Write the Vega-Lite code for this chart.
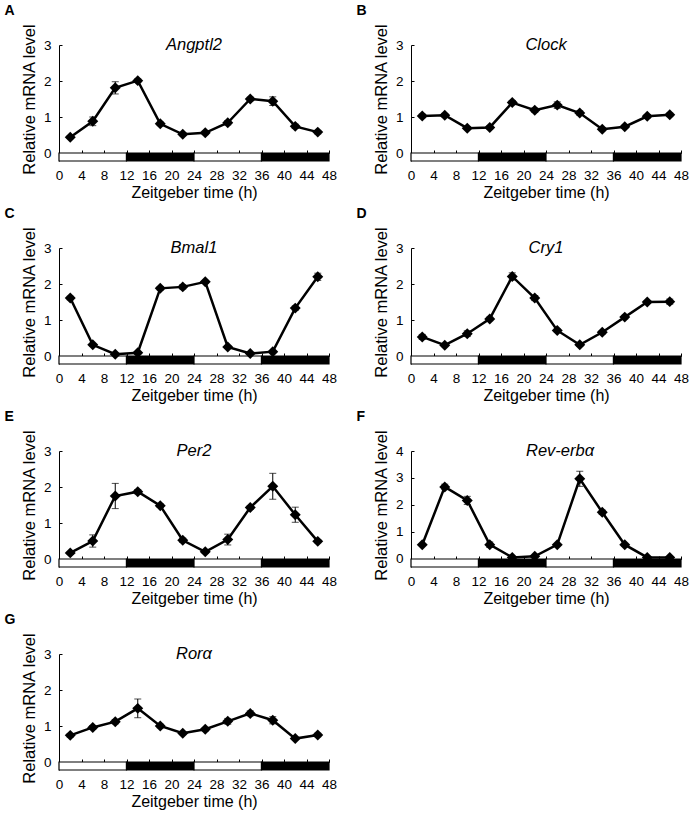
{
  "$schema": "https://vega.github.io/schema/vega-lite/v6.json",
  "padding": {"left": 4, "top": 4, "right": 2, "bottom": 2},
  "background": "white",
  "datasets": {
    "phase": [
      {"start": 0, "end": 12, "phase": "light"},
      {"start": 12, "end": 24, "phase": "dark"},
      {"start": 24, "end": 36, "phase": "light"},
      {"start": 36, "end": 48, "phase": "dark"}
    ],
    "expr": [
      {"gene": "Angptl2", "zt": 2, "value": 0.44, "err": 0.04},
      {"gene": "Angptl2", "zt": 6, "value": 0.88, "err": 0.12},
      {"gene": "Angptl2", "zt": 10, "value": 1.81, "err": 0.17},
      {"gene": "Angptl2", "zt": 14, "value": 2.01, "err": 0.05},
      {"gene": "Angptl2", "zt": 18, "value": 0.81, "err": 0.05},
      {"gene": "Angptl2", "zt": 22, "value": 0.52, "err": 0.04},
      {"gene": "Angptl2", "zt": 26, "value": 0.56, "err": 0.05},
      {"gene": "Angptl2", "zt": 30, "value": 0.84, "err": 0.06},
      {"gene": "Angptl2", "zt": 34, "value": 1.5, "err": 0.05},
      {"gene": "Angptl2", "zt": 38, "value": 1.44, "err": 0.12},
      {"gene": "Angptl2", "zt": 42, "value": 0.74, "err": 0.06},
      {"gene": "Angptl2", "zt": 46, "value": 0.58, "err": 0.05},
      {"gene": "Clock", "zt": 2, "value": 1.03, "err": 0.05},
      {"gene": "Clock", "zt": 6, "value": 1.05, "err": 0.05},
      {"gene": "Clock", "zt": 10, "value": 0.69, "err": 0.04},
      {"gene": "Clock", "zt": 14, "value": 0.71, "err": 0.04},
      {"gene": "Clock", "zt": 18, "value": 1.4, "err": 0.06},
      {"gene": "Clock", "zt": 22, "value": 1.19, "err": 0.06},
      {"gene": "Clock", "zt": 26, "value": 1.33, "err": 0.09},
      {"gene": "Clock", "zt": 30, "value": 1.11, "err": 0.06},
      {"gene": "Clock", "zt": 34, "value": 0.66, "err": 0.04},
      {"gene": "Clock", "zt": 38, "value": 0.73, "err": 0.04},
      {"gene": "Clock", "zt": 42, "value": 1.02, "err": 0.05},
      {"gene": "Clock", "zt": 46, "value": 1.06, "err": 0.05},
      {"gene": "Bmal1", "zt": 2, "value": 1.61, "err": 0.05},
      {"gene": "Bmal1", "zt": 6, "value": 0.31, "err": 0.04},
      {"gene": "Bmal1", "zt": 10, "value": 0.05, "err": 0.02},
      {"gene": "Bmal1", "zt": 14, "value": 0.09, "err": 0.03},
      {"gene": "Bmal1", "zt": 18, "value": 1.88, "err": 0.05},
      {"gene": "Bmal1", "zt": 22, "value": 1.92, "err": 0.06},
      {"gene": "Bmal1", "zt": 26, "value": 2.06, "err": 0.04},
      {"gene": "Bmal1", "zt": 30, "value": 0.25, "err": 0.04},
      {"gene": "Bmal1", "zt": 34, "value": 0.07, "err": 0.03},
      {"gene": "Bmal1", "zt": 38, "value": 0.12, "err": 0.03},
      {"gene": "Bmal1", "zt": 42, "value": 1.33, "err": 0.06},
      {"gene": "Bmal1", "zt": 46, "value": 2.2, "err": 0.1},
      {"gene": "Cry1", "zt": 2, "value": 0.53, "err": 0.07},
      {"gene": "Cry1", "zt": 6, "value": 0.3, "err": 0.04},
      {"gene": "Cry1", "zt": 10, "value": 0.62, "err": 0.08},
      {"gene": "Cry1", "zt": 14, "value": 1.03, "err": 0.05},
      {"gene": "Cry1", "zt": 18, "value": 2.21, "err": 0.1},
      {"gene": "Cry1", "zt": 22, "value": 1.61, "err": 0.07},
      {"gene": "Cry1", "zt": 26, "value": 0.71, "err": 0.04},
      {"gene": "Cry1", "zt": 30, "value": 0.31, "err": 0.04},
      {"gene": "Cry1", "zt": 34, "value": 0.66, "err": 0.05},
      {"gene": "Cry1", "zt": 38, "value": 1.08, "err": 0.05},
      {"gene": "Cry1", "zt": 42, "value": 1.5, "err": 0.04},
      {"gene": "Cry1", "zt": 46, "value": 1.51, "err": 0.07},
      {"gene": "Per2", "zt": 2, "value": 0.17, "err": 0.04},
      {"gene": "Per2", "zt": 6, "value": 0.5, "err": 0.17},
      {"gene": "Per2", "zt": 10, "value": 1.75, "err": 0.35},
      {"gene": "Per2", "zt": 14, "value": 1.87, "err": 0.06},
      {"gene": "Per2", "zt": 18, "value": 1.48, "err": 0.05},
      {"gene": "Per2", "zt": 22, "value": 0.52, "err": 0.06},
      {"gene": "Per2", "zt": 26, "value": 0.2, "err": 0.04},
      {"gene": "Per2", "zt": 30, "value": 0.54, "err": 0.15},
      {"gene": "Per2", "zt": 34, "value": 1.43, "err": 0.05},
      {"gene": "Per2", "zt": 38, "value": 2.02, "err": 0.36},
      {"gene": "Per2", "zt": 42, "value": 1.23, "err": 0.21},
      {"gene": "Per2", "zt": 46, "value": 0.49, "err": 0.04},
      {"gene": "Rev-erbα", "zt": 2, "value": 0.53, "err": 0.03},
      {"gene": "Rev-erbα", "zt": 6, "value": 2.67, "err": 0.1},
      {"gene": "Rev-erbα", "zt": 10, "value": 2.17, "err": 0.15},
      {"gene": "Rev-erbα", "zt": 14, "value": 0.53, "err": 0.1},
      {"gene": "Rev-erbα", "zt": 18, "value": 0.06, "err": 0.03},
      {"gene": "Rev-erbα", "zt": 22, "value": 0.1, "err": 0.03},
      {"gene": "Rev-erbα", "zt": 26, "value": 0.53, "err": 0.03},
      {"gene": "Rev-erbα", "zt": 30, "value": 2.97, "err": 0.28},
      {"gene": "Rev-erbα", "zt": 34, "value": 1.73, "err": 0.08},
      {"gene": "Rev-erbα", "zt": 38, "value": 0.53, "err": 0.05},
      {"gene": "Rev-erbα", "zt": 42, "value": 0.06, "err": 0.03},
      {"gene": "Rev-erbα", "zt": 46, "value": 0.06, "err": 0.03},
      {"gene": "Rorα", "zt": 2, "value": 0.74, "err": 0.05},
      {"gene": "Rorα", "zt": 6, "value": 0.96, "err": 0.05},
      {"gene": "Rorα", "zt": 10, "value": 1.12, "err": 0.06},
      {"gene": "Rorα", "zt": 14, "value": 1.49, "err": 0.26},
      {"gene": "Rorα", "zt": 18, "value": 1.0, "err": 0.05},
      {"gene": "Rorα", "zt": 22, "value": 0.8, "err": 0.04},
      {"gene": "Rorα", "zt": 26, "value": 0.91, "err": 0.05},
      {"gene": "Rorα", "zt": 30, "value": 1.13, "err": 0.08},
      {"gene": "Rorα", "zt": 34, "value": 1.35, "err": 0.07},
      {"gene": "Rorα", "zt": 38, "value": 1.16, "err": 0.1},
      {"gene": "Rorα", "zt": 42, "value": 0.65, "err": 0.03},
      {"gene": "Rorα", "zt": 46, "value": 0.75, "err": 0.05}
    ]
  },
  "columns": 2,
  "spacing": {"row": 6, "column": 19},
  "concat": [
    {
      "title": {"text": "A"},
      "width": 270, "height": 116,
      "layer": [
        {"data": {"name": "phase"}, "mark": {"type": "rect", "stroke": "black", "strokeWidth": 1.2},
         "encoding": {
           "x": {"field": "start", "type": "quantitative", "scale": {"domain": [0, 48], "nice": false}, "title": "Zeitgeber time (h)", "axis": {"values": [0,4,8,12,16,20,24,28,32,36,40,44,48], "tickCount": 20, "format": "d", "labelOverlap": false}},
           "x2": {"field": "end"},
           "y": {"datum": 0, "type": "quantitative", "scale": {"domain": [-0.2222, 3], "nice": false}, "title": "Relative mRNA level", "axis": {"values": [0,1,2,3], "tickCount": 10, "format": "d", "labelOverlap": false}},
           "y2": {"datum": -0.2222},
           "fill": {"field": "phase", "type": "nominal", "scale": {"domain": ["light", "dark"], "range": ["white", "black"]}, "legend": null}}},
        {"data": {"name": "expr"}, "transform": [{"filter": "datum.gene === 'Angptl2'"}],
         "encoding": {"x": {"field": "zt", "type": "quantitative", "title": "Zeitgeber time (h)", "axis": {"values": [0,4,8,12,16,20,24,28,32,36,40,44,48], "tickCount": 20, "format": "d", "labelOverlap": false}}, "y": {"field": "value", "type": "quantitative", "title": "Relative mRNA level", "axis": {"values": [0,1,2,3], "tickCount": 10, "format": "d", "labelOverlap": false}}},
         "layer": [
           {"mark": {"type": "line", "color": "black", "strokeWidth": 2.5}},
           {"mark": {"type": "errorbar", "color": "black", "thickness": 1, "ticks": {"size": 7, "thickness": 1, "color": "black"}}, "encoding": {"yError": {"field": "err"}}},
           {"mark": {"type": "point", "shape": "diamond", "filled": true, "color": "black", "size": 120, "opacity": 1}}
         ]},
        {"data": {"values": [{}]}, "mark": {"type": "text", "fontStyle": "italic", "fontSize": 16.5, "baseline": "middle", "align": "center"},
         "encoding": {"x": {"datum": 24}, "y": {"datum": 3}, "text": {"value": "Angptl2"}}}
      ]
    },
    {
      "title": {"text": "B"},
      "width": 270, "height": 116,
      "layer": [
        {"data": {"name": "phase"}, "mark": {"type": "rect", "stroke": "black", "strokeWidth": 1.2},
         "encoding": {
           "x": {"field": "start", "type": "quantitative", "scale": {"domain": [0, 48], "nice": false}, "title": "Zeitgeber time (h)", "axis": {"values": [0,4,8,12,16,20,24,28,32,36,40,44,48], "tickCount": 20, "format": "d", "labelOverlap": false}},
           "x2": {"field": "end"},
           "y": {"datum": 0, "type": "quantitative", "scale": {"domain": [-0.2222, 3], "nice": false}, "title": "Relative mRNA level", "axis": {"values": [0,1,2,3], "tickCount": 10, "format": "d", "labelOverlap": false}},
           "y2": {"datum": -0.2222},
           "fill": {"field": "phase", "type": "nominal", "scale": {"domain": ["light", "dark"], "range": ["white", "black"]}, "legend": null}}},
        {"data": {"name": "expr"}, "transform": [{"filter": "datum.gene === 'Clock'"}],
         "encoding": {"x": {"field": "zt", "type": "quantitative", "title": "Zeitgeber time (h)", "axis": {"values": [0,4,8,12,16,20,24,28,32,36,40,44,48], "tickCount": 20, "format": "d", "labelOverlap": false}}, "y": {"field": "value", "type": "quantitative", "title": "Relative mRNA level", "axis": {"values": [0,1,2,3], "tickCount": 10, "format": "d", "labelOverlap": false}}},
         "layer": [
           {"mark": {"type": "line", "color": "black", "strokeWidth": 2.5}},
           {"mark": {"type": "errorbar", "color": "black", "thickness": 1, "ticks": {"size": 7, "thickness": 1, "color": "black"}}, "encoding": {"yError": {"field": "err"}}},
           {"mark": {"type": "point", "shape": "diamond", "filled": true, "color": "black", "size": 120, "opacity": 1}}
         ]},
        {"data": {"values": [{}]}, "mark": {"type": "text", "fontStyle": "italic", "fontSize": 16.5, "baseline": "middle", "align": "center"},
         "encoding": {"x": {"datum": 24}, "y": {"datum": 3}, "text": {"value": "Clock"}}}
      ]
    },
    {
      "title": {"text": "C"},
      "width": 270, "height": 116,
      "layer": [
        {"data": {"name": "phase"}, "mark": {"type": "rect", "stroke": "black", "strokeWidth": 1.2},
         "encoding": {
           "x": {"field": "start", "type": "quantitative", "scale": {"domain": [0, 48], "nice": false}, "title": "Zeitgeber time (h)", "axis": {"values": [0,4,8,12,16,20,24,28,32,36,40,44,48], "tickCount": 20, "format": "d", "labelOverlap": false}},
           "x2": {"field": "end"},
           "y": {"datum": 0, "type": "quantitative", "scale": {"domain": [-0.2222, 3], "nice": false}, "title": "Relative mRNA level", "axis": {"values": [0,1,2,3], "tickCount": 10, "format": "d", "labelOverlap": false}},
           "y2": {"datum": -0.2222},
           "fill": {"field": "phase", "type": "nominal", "scale": {"domain": ["light", "dark"], "range": ["white", "black"]}, "legend": null}}},
        {"data": {"name": "expr"}, "transform": [{"filter": "datum.gene === 'Bmal1'"}],
         "encoding": {"x": {"field": "zt", "type": "quantitative", "title": "Zeitgeber time (h)", "axis": {"values": [0,4,8,12,16,20,24,28,32,36,40,44,48], "tickCount": 20, "format": "d", "labelOverlap": false}}, "y": {"field": "value", "type": "quantitative", "title": "Relative mRNA level", "axis": {"values": [0,1,2,3], "tickCount": 10, "format": "d", "labelOverlap": false}}},
         "layer": [
           {"mark": {"type": "line", "color": "black", "strokeWidth": 2.5}},
           {"mark": {"type": "errorbar", "color": "black", "thickness": 1, "ticks": {"size": 7, "thickness": 1, "color": "black"}}, "encoding": {"yError": {"field": "err"}}},
           {"mark": {"type": "point", "shape": "diamond", "filled": true, "color": "black", "size": 120, "opacity": 1}}
         ]},
        {"data": {"values": [{}]}, "mark": {"type": "text", "fontStyle": "italic", "fontSize": 16.5, "baseline": "middle", "align": "center"},
         "encoding": {"x": {"datum": 24}, "y": {"datum": 3}, "text": {"value": "Bmal1"}}}
      ]
    },
    {
      "title": {"text": "D"},
      "width": 270, "height": 116,
      "layer": [
        {"data": {"name": "phase"}, "mark": {"type": "rect", "stroke": "black", "strokeWidth": 1.2},
         "encoding": {
           "x": {"field": "start", "type": "quantitative", "scale": {"domain": [0, 48], "nice": false}, "title": "Zeitgeber time (h)", "axis": {"values": [0,4,8,12,16,20,24,28,32,36,40,44,48], "tickCount": 20, "format": "d", "labelOverlap": false}},
           "x2": {"field": "end"},
           "y": {"datum": 0, "type": "quantitative", "scale": {"domain": [-0.2222, 3], "nice": false}, "title": "Relative mRNA level", "axis": {"values": [0,1,2,3], "tickCount": 10, "format": "d", "labelOverlap": false}},
           "y2": {"datum": -0.2222},
           "fill": {"field": "phase", "type": "nominal", "scale": {"domain": ["light", "dark"], "range": ["white", "black"]}, "legend": null}}},
        {"data": {"name": "expr"}, "transform": [{"filter": "datum.gene === 'Cry1'"}],
         "encoding": {"x": {"field": "zt", "type": "quantitative", "title": "Zeitgeber time (h)", "axis": {"values": [0,4,8,12,16,20,24,28,32,36,40,44,48], "tickCount": 20, "format": "d", "labelOverlap": false}}, "y": {"field": "value", "type": "quantitative", "title": "Relative mRNA level", "axis": {"values": [0,1,2,3], "tickCount": 10, "format": "d", "labelOverlap": false}}},
         "layer": [
           {"mark": {"type": "line", "color": "black", "strokeWidth": 2.5}},
           {"mark": {"type": "errorbar", "color": "black", "thickness": 1, "ticks": {"size": 7, "thickness": 1, "color": "black"}}, "encoding": {"yError": {"field": "err"}}},
           {"mark": {"type": "point", "shape": "diamond", "filled": true, "color": "black", "size": 120, "opacity": 1}}
         ]},
        {"data": {"values": [{}]}, "mark": {"type": "text", "fontStyle": "italic", "fontSize": 16.5, "baseline": "middle", "align": "center"},
         "encoding": {"x": {"datum": 24}, "y": {"datum": 3}, "text": {"value": "Cry1"}}}
      ]
    },
    {
      "title": {"text": "E"},
      "width": 270, "height": 116,
      "layer": [
        {"data": {"name": "phase"}, "mark": {"type": "rect", "stroke": "black", "strokeWidth": 1.2},
         "encoding": {
           "x": {"field": "start", "type": "quantitative", "scale": {"domain": [0, 48], "nice": false}, "title": "Zeitgeber time (h)", "axis": {"values": [0,4,8,12,16,20,24,28,32,36,40,44,48], "tickCount": 20, "format": "d", "labelOverlap": false}},
           "x2": {"field": "end"},
           "y": {"datum": 0, "type": "quantitative", "scale": {"domain": [-0.2222, 3], "nice": false}, "title": "Relative mRNA level", "axis": {"values": [0,1,2,3], "tickCount": 10, "format": "d", "labelOverlap": false}},
           "y2": {"datum": -0.2222},
           "fill": {"field": "phase", "type": "nominal", "scale": {"domain": ["light", "dark"], "range": ["white", "black"]}, "legend": null}}},
        {"data": {"name": "expr"}, "transform": [{"filter": "datum.gene === 'Per2'"}],
         "encoding": {"x": {"field": "zt", "type": "quantitative", "title": "Zeitgeber time (h)", "axis": {"values": [0,4,8,12,16,20,24,28,32,36,40,44,48], "tickCount": 20, "format": "d", "labelOverlap": false}}, "y": {"field": "value", "type": "quantitative", "title": "Relative mRNA level", "axis": {"values": [0,1,2,3], "tickCount": 10, "format": "d", "labelOverlap": false}}},
         "layer": [
           {"mark": {"type": "line", "color": "black", "strokeWidth": 2.5}},
           {"mark": {"type": "errorbar", "color": "black", "thickness": 1, "ticks": {"size": 7, "thickness": 1, "color": "black"}}, "encoding": {"yError": {"field": "err"}}},
           {"mark": {"type": "point", "shape": "diamond", "filled": true, "color": "black", "size": 120, "opacity": 1}}
         ]},
        {"data": {"values": [{}]}, "mark": {"type": "text", "fontStyle": "italic", "fontSize": 16.5, "baseline": "middle", "align": "center"},
         "encoding": {"x": {"datum": 24}, "y": {"datum": 3}, "text": {"value": "Per2"}}}
      ]
    },
    {
      "title": {"text": "F"},
      "width": 270, "height": 116,
      "layer": [
        {"data": {"name": "phase"}, "mark": {"type": "rect", "stroke": "black", "strokeWidth": 1.2},
         "encoding": {
           "x": {"field": "start", "type": "quantitative", "scale": {"domain": [0, 48], "nice": false}, "title": "Zeitgeber time (h)", "axis": {"values": [0,4,8,12,16,20,24,28,32,36,40,44,48], "tickCount": 20, "format": "d", "labelOverlap": false}},
           "x2": {"field": "end"},
           "y": {"datum": 0, "type": "quantitative", "scale": {"domain": [-0.2963, 4], "nice": false}, "title": "Relative mRNA level", "axis": {"values": [0,1,2,3,4], "tickCount": 10, "format": "d", "labelOverlap": false}},
           "y2": {"datum": -0.2963},
           "fill": {"field": "phase", "type": "nominal", "scale": {"domain": ["light", "dark"], "range": ["white", "black"]}, "legend": null}}},
        {"data": {"name": "expr"}, "transform": [{"filter": "datum.gene === 'Rev-erbα'"}],
         "encoding": {"x": {"field": "zt", "type": "quantitative", "title": "Zeitgeber time (h)", "axis": {"values": [0,4,8,12,16,20,24,28,32,36,40,44,48], "tickCount": 20, "format": "d", "labelOverlap": false}}, "y": {"field": "value", "type": "quantitative", "title": "Relative mRNA level", "axis": {"values": [0,1,2,3,4], "tickCount": 10, "format": "d", "labelOverlap": false}}},
         "layer": [
           {"mark": {"type": "line", "color": "black", "strokeWidth": 2.5}},
           {"mark": {"type": "errorbar", "color": "black", "thickness": 1, "ticks": {"size": 7, "thickness": 1, "color": "black"}}, "encoding": {"yError": {"field": "err"}}},
           {"mark": {"type": "point", "shape": "diamond", "filled": true, "color": "black", "size": 120, "opacity": 1}}
         ]},
        {"data": {"values": [{}]}, "mark": {"type": "text", "fontStyle": "italic", "fontSize": 16.5, "baseline": "middle", "align": "center"},
         "encoding": {"x": {"datum": 26.5}, "y": {"datum": 4}, "text": {"value": "Rev-erbα"}}}
      ]
    },
    {
      "title": {"text": "G"},
      "width": 270, "height": 116,
      "layer": [
        {"data": {"name": "phase"}, "mark": {"type": "rect", "stroke": "black", "strokeWidth": 1.2},
         "encoding": {
           "x": {"field": "start", "type": "quantitative", "scale": {"domain": [0, 48], "nice": false}, "title": "Zeitgeber time (h)", "axis": {"values": [0,4,8,12,16,20,24,28,32,36,40,44,48], "tickCount": 20, "format": "d", "labelOverlap": false}},
           "x2": {"field": "end"},
           "y": {"datum": 0, "type": "quantitative", "scale": {"domain": [-0.2222, 3], "nice": false}, "title": "Relative mRNA level", "axis": {"values": [0,1,2,3], "tickCount": 10, "format": "d", "labelOverlap": false}},
           "y2": {"datum": -0.2222},
           "fill": {"field": "phase", "type": "nominal", "scale": {"domain": ["light", "dark"], "range": ["white", "black"]}, "legend": null}}},
        {"data": {"name": "expr"}, "transform": [{"filter": "datum.gene === 'Rorα'"}],
         "encoding": {"x": {"field": "zt", "type": "quantitative", "title": "Zeitgeber time (h)", "axis": {"values": [0,4,8,12,16,20,24,28,32,36,40,44,48], "tickCount": 20, "format": "d", "labelOverlap": false}}, "y": {"field": "value", "type": "quantitative", "title": "Relative mRNA level", "axis": {"values": [0,1,2,3], "tickCount": 10, "format": "d", "labelOverlap": false}}},
         "layer": [
           {"mark": {"type": "line", "color": "black", "strokeWidth": 2.5}},
           {"mark": {"type": "errorbar", "color": "black", "thickness": 1, "ticks": {"size": 7, "thickness": 1, "color": "black"}}, "encoding": {"yError": {"field": "err"}}},
           {"mark": {"type": "point", "shape": "diamond", "filled": true, "color": "black", "size": 120, "opacity": 1}}
         ]},
        {"data": {"values": [{}]}, "mark": {"type": "text", "fontStyle": "italic", "fontSize": 16.5, "baseline": "middle", "align": "center"},
         "encoding": {"x": {"datum": 24}, "y": {"datum": 3}, "text": {"value": "Rorα"}}}
      ]
    }
  ],
  "config": {
    "font": "Liberation Sans, Arial, Helvetica, sans-serif",
    "view": {"stroke": null},
    "title": {"anchor": "start", "frame": "bounds", "fontSize": 14, "fontWeight": "bold", "color": "black", "offset": 5, "dx": -17},
    "axis": {"grid": false, "domainColor": "black", "tickColor": "black", "labelColor": "black", "titleColor": "black", "titleFontWeight": "normal", "domainWidth": 1, "tickWidth": 1, "labelOverlap": false},
    "axisX": {"offset": -8, "tickSize": -3, "labelPadding": 18, "labelFontSize": 13.5, "labelFlush": false, "titleFontSize": 16, "titlePadding": 3},
    "axisY": {"tickSize": -3, "labelPadding": 11, "labelFontSize": 13.5, "titleFontSize": 16.5, "titlePadding": 6, "titleY": 54}
  }
}
